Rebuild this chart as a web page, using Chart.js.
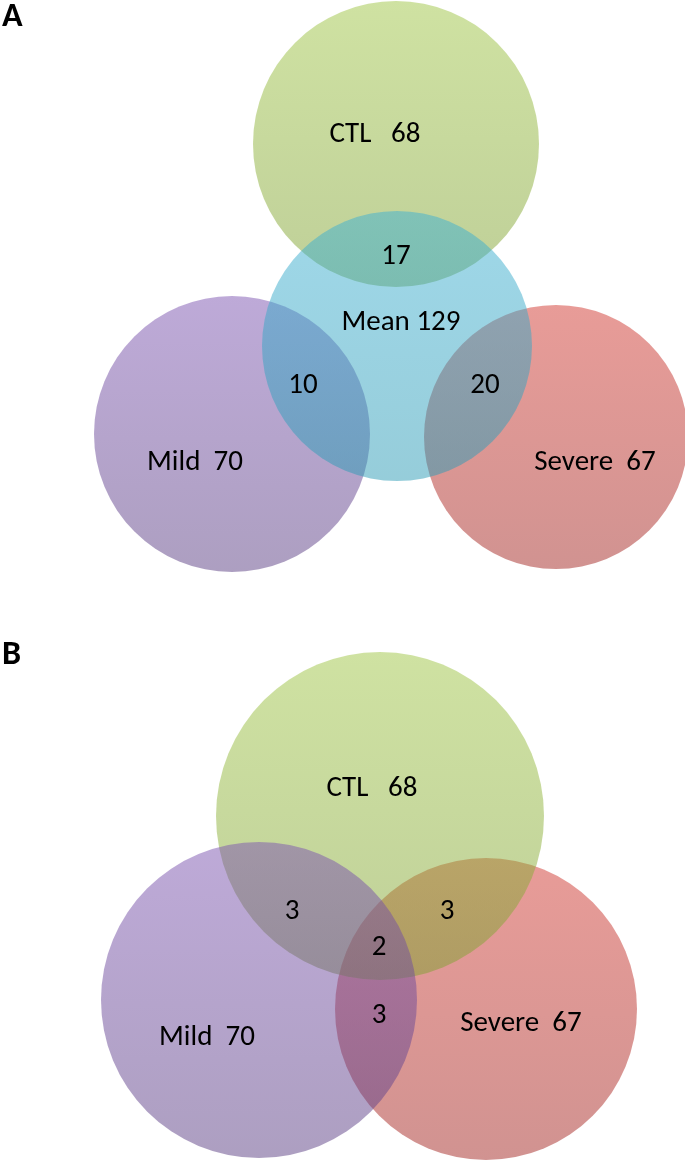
<!DOCTYPE html>
<html>
<head>
<meta charset="utf-8">
<script src="https://cdn.jsdelivr.net/npm/chart.js@4.4.1/dist/chart.umd.min.js"></script>
<style>
  body { margin: 0; background: #fff; }
  #wrap { width: 685px; height: 1166px; }
</style>
</head>
<body>
<div id="wrap"><canvas id="venn" width="685" height="1166"></canvas></div>
<script>
// set sizes
const setNames = ['CTL', 'Mean', 'Mild', 'Severe'];
const setCounts = [68, 129, 70, 67];

// panel A: overlaps with Mean
const overlapsA = ['17', '10', '20'];
// panel B: pairwise and triple overlaps
const overlapsB = ['3', '3', '2', '3'];

// circles, in drawing order (last one on top)
const circleSet = ['CTL', 'Mild', 'Severe', 'Mean', 'Severe', 'CTL', 'Mild'];
const circleX = [396, 232, 556, 397, 486, 380, 259];
const circleY = [144, 434, 437, 346, 1009, 816, 1000];
const circleR = [143, 138, 132, 135, 151, 164, 158];

// label texts and where they sit
const labelText = [
    'CTL   68', overlapsA[0], 'Mean 129', overlapsA[1], overlapsA[2], 'Mild  70', 'Severe  67',
    'CTL   68', overlapsB[0], overlapsB[1], overlapsB[2], overlapsB[3], 'Mild  70', 'Severe  67'
];
const labelX = [375, 396, 401, 303, 485, 195, 595, 372, 292, 447, 379, 379, 207, 521];
const labelY = [135, 257, 323, 386, 386, 463, 463, 789, 912, 912, 948, 1016, 1038, 1024];

const panelTitles = ['A', 'B'];
const panelTitleY = [17, 655];

const colors = {
    CTL: ['rgba(159,197,69,0.5)', 'rgba(127,160,50,0.5)'],
    Mean: ['rgba(63,177,211,0.5)', 'rgba(45,155,181,0.5)'],
    Mild: ['rgba(125,85,177,0.5)', 'rgba(91,63,131,0.5)'],
    Severe: ['rgba(209,57,49,0.5)', 'rgba(163,39,35,0.5)']
};

const bubbles = circleSet.map((s, i) => ({x: circleX[i], y: circleY[i], r: circleR[i], set: s}));

function fillFor(context) {
    const chart = context.chart;
    const raw = context.raw;
    if (!raw || !chart.chartArea) return 'rgba(0,0,0,0)';
    const yScale = chart.scales.y;
    const top = yScale.getPixelForValue(raw.y - raw.r);
    const bottom = yScale.getPixelForValue(raw.y + raw.r);
    const g = chart.ctx.createLinearGradient(0, top, 0, bottom);
    g.addColorStop(0, colors[raw.set][0]);
    g.addColorStop(1, colors[raw.set][1]);
    return g;
}

const labelPlugin = {
    id: 'vennLabels',
    afterDatasetsDraw(chart) {
        const ctx = chart.ctx;
        const xs = chart.scales.x, ys = chart.scales.y;
        ctx.save();
        ctx.fillStyle = '#000';
        ctx.textAlign = 'center';
        ctx.textBaseline = 'middle';
        ctx.font = '29px Carlito, "Liberation Sans Narrow", "Liberation Sans", sans-serif';
        for (let i = 0; i < labelText.length; i++) {
            ctx.fillText(labelText[i], xs.getPixelForValue(labelX[i]), ys.getPixelForValue(labelY[i]));
        }
        ctx.textAlign = 'left';
        ctx.font = 'bold 34px Carlito, "Liberation Sans Narrow", "Liberation Sans", sans-serif';
        for (let i = 0; i < panelTitles.length; i++) {
            ctx.fillText(panelTitles[i], xs.getPixelForValue(2), ys.getPixelForValue(panelTitleY[i]));
        }
        ctx.restore();
    }
};

new Chart(document.getElementById('venn').getContext('2d'), {
    type: 'bubble',
    data: {
        datasets: [{
            label: 'Venn',
            data: bubbles,
            backgroundColor: fillFor,
            borderWidth: 0,
            hoverRadius: 0,
            hoverBorderWidth: 0
        }]
    },
    options: {
        responsive: false,
        animation: false,
        events: [],
        layout: { padding: 0, autoPadding: false },
        clip: false,
        scales: {
            x: { type: 'linear', min: 0, max: 685, display: false },
            y: { type: 'linear', min: 0, max: 1166, reverse: true, display: false }
        },
        plugins: {
            legend: { display: false },
            tooltip: { enabled: false }
        }
    },
    plugins: [labelPlugin]
});
</script>
</body>
</html>
